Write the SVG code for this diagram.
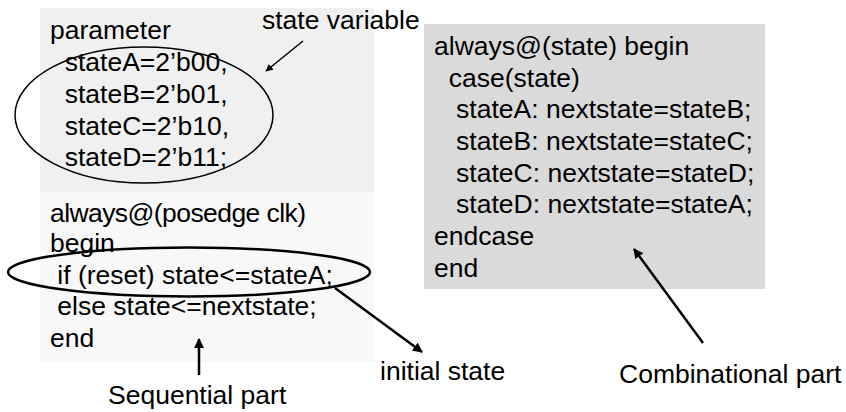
<svg xmlns="http://www.w3.org/2000/svg" width="846" height="412" viewBox="0 0 846 412">
<style>
text{font-family:"Liberation Sans",Arial,sans-serif;font-size:26.5px;fill:#000;white-space:pre}
.thin{stroke:#000;stroke-width:1.5;fill:none}
.thick{stroke:#000;stroke-width:2.5;fill:none}
</style>
<defs>
<marker id="ah" viewBox="0 0 10 10" refX="9" refY="5" markerWidth="5" markerHeight="5" orient="auto" markerUnits="strokeWidth">
<path d="M0,0 L10,5 L0,10 z" fill="#000"/>
</marker>
<marker id="ah2" viewBox="0 0 10 10" refX="9" refY="5" markerWidth="4" markerHeight="4" orient="auto" markerUnits="strokeWidth">
<path d="M0,0 L10,5 L0,10 z" fill="#000"/>
</marker>
</defs>
<rect width="846" height="412" fill="#fff"/>
<g id="param-block">
<rect x="40" y="8" width="334" height="184" fill="#f0f0f0"/>
<text x="50" y="39">parameter</text>
<text x="50" y="71">  stateA=2’b00,</text>
<text x="50" y="103">  stateB=2’b01,</text>
<text x="50" y="135">  stateC=2’b10,</text>
<text x="50" y="166">  stateD=2’b11;</text>
</g>
<g id="seq-block">
<rect x="40" y="192" width="334" height="170" fill="#f8f8f8"/>
<text x="50" y="222" textLength="256" lengthAdjust="spacing">always@(posedge clk)</text>
<text x="50" y="252">begin</text>
<text x="50" y="284"> if (reset) state&lt;=stateA;</text>
<text x="50" y="315"> else state&lt;=nextstate;</text>
<text x="50" y="347">end</text>
</g>
<g id="comb-block">
<rect x="424" y="24" width="341" height="265" fill="#dadada"/>
<text x="434" y="55">always@(state) begin</text>
<text x="434" y="87">  case(state)</text>
<text x="434" y="118">   stateA: nextstate=stateB;</text>
<text x="434" y="150">   stateB: nextstate=stateC;</text>
<text x="434" y="182">   stateC: nextstate=stateD;</text>
<text x="434" y="213">   stateD: nextstate=stateA;</text>
<text x="434" y="245">endcase</text>
<text x="434" y="277">end</text>
</g>
<g id="state-variable-label"><text x="262" y="29">state variable</text></g>
<g id="initial-state-label"><text x="380" y="380">initial state</text></g>
<g id="sequential-label"><text x="108" y="404">Sequential part</text></g>
<g id="combinational-label"><text x="619" y="383">Combinational part</text></g>
<g id="highlights">
<ellipse cx="144" cy="115" rx="129" ry="68" class="thin"/>
<ellipse cx="189" cy="272" rx="181" ry="24.5" class="thick"/>
</g>
<g id="connectors">
<line x1="303" y1="41" x2="266" y2="71" class="thin" marker-end="url(#ah)"/>
<line x1="335" y1="288" x2="422" y2="352" class="thick" marker-end="url(#ah2)"/>
<line x1="199" y1="375" x2="199" y2="339" class="thick" marker-end="url(#ah2)"/>
<line x1="703" y1="343" x2="634" y2="249" class="thick" marker-end="url(#ah2)"/>
</g>
</svg>
